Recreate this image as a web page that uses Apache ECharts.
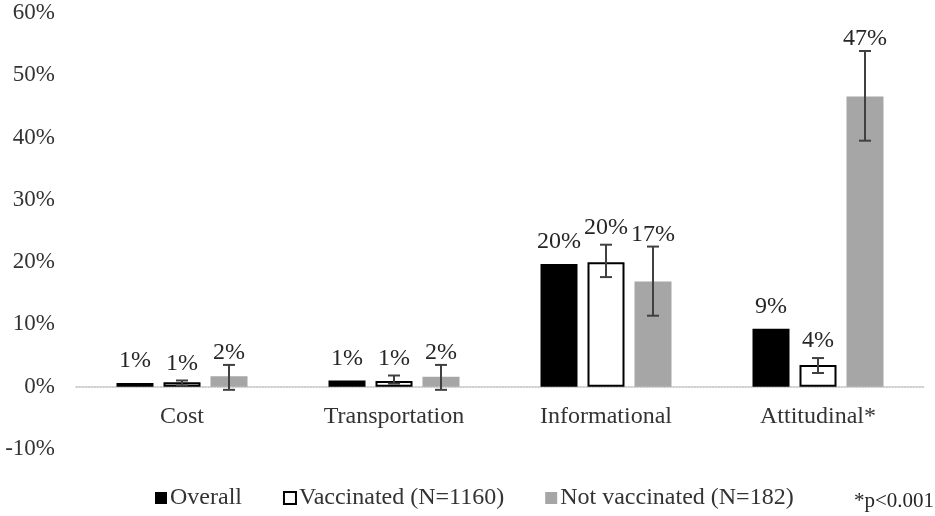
<!DOCTYPE html>
<html>
<head>
<meta charset="utf-8">
<script src="https://cdn.jsdelivr.net/npm/echarts@6/dist/echarts.min.js"></script>
<style>
  html, body { margin: 0; padding: 0; background: #fff; }
  #container { width: 935px; height: 516px; }
</style>
</head>
<body>
<div id="container"></div>
<script>
// categories and values (percent)
var categories = ['Cost', 'Transportation', 'Informational', 'Attitudinal*'];
var yTicks = { min: -10, max: 60, interval: 10 };

var overall = [0.6, 1.0, 19.7, 9.3];

var vaccinated = [0.7, 0.9, 20.0, 3.5];
var vaccinatedLow = [0.2, 0.5, 17.6, 2.2];
var vaccinatedHigh = [1.0, 1.8, 22.8, 4.6];

var notVaccinated = [1.7, 1.6, 16.9, 46.6];
var notVaccinatedLow = [-0.5, -0.5, 11.4, 39.5];
var notVaccinatedHigh = [3.5, 3.5, 22.5, 53.9];

var seriesNames = ['Overall', 'Vaccinated (N=1160)', 'Not vaccinated (N=182)'];

var FONT = "'Liberation Serif', 'Times New Roman', serif";
var BAR_W = 37;
var BAR_GAP = 10;
var LABEL_GAP = [22, 17, 12]; // label centre above bar / error bar top

function toData(vals, lo, hi) {
    var res = [];
    for (var i = 0; i < vals.length; i++) {
        res.push([i, vals[i], lo ? lo[i] : null, hi ? hi[i] : null]);
    }
    return res;
}

// draws the error bar (if any) and the value label above it
function errorRender(s) {
    return function (params, api) {
        var cat = api.value(0);
        var val = api.value(1);
        var lo = api.value(2);
        var hi = api.value(3);
        var top = api.coord([cat, val]);
        var x = top[0] + (s - 1) * (BAR_W + BAR_GAP);
        var anchorY = top[1];
        var children = [];
        if (!isNaN(hi) && !isNaN(lo) && hi !== null) {
            var pHi = api.coord([cat, hi]);
            var pLo = api.coord([cat, lo]);
            var st = { stroke: '#404040', lineWidth: 2 };
            children.push({ type: 'line', shape: { x1: x, y1: pHi[1], x2: x, y2: pLo[1] }, style: st });
            children.push({ type: 'line', shape: { x1: x - 6, y1: pHi[1], x2: x + 6, y2: pHi[1] }, style: st });
            children.push({ type: 'line', shape: { x1: x - 6, y1: pLo[1], x2: x + 6, y2: pLo[1] }, style: st });
            anchorY = Math.min(anchorY, pHi[1]);
        }
        children.push({
            type: 'text',
            style: {
                text: Math.round(val) + '%',
                x: x,
                y: anchorY - LABEL_GAP[s],
                align: 'center',
                verticalAlign: 'middle',
                font: '24px ' + FONT,
                fill: '#262626'
            }
        });
        return { type: 'group', children: children };
    };
}

var dom = document.getElementById('container');
var myChart = echarts.init(dom);

var option = {
    backgroundColor: '#fff',
    animation: false,
    textStyle: { fontFamily: FONT },
    grid: { left: 76, right: 11, top: 13, bottom: 67 },
    legend: {
        left: 150,
        top: 481,
        itemWidth: 12,
        itemHeight: 12,
        itemGap: 41,
        icon: 'rect',
        data: seriesNames,
        textStyle: { fontFamily: FONT, fontSize: 24, color: '#333', padding: [0, 0, 0, -2] }
    },
    graphic: [{
        type: 'text',
        right: 1,
        top: 491,
        style: { text: '*p<0.001', font: '21px ' + FONT, fill: '#262626' }
    }],
    xAxis: {
        type: 'category',
        data: categories,
        axisTick: { show: false },
        axisLine: { onZero: true, lineStyle: { color: '#bfbfbf', width: 1.5, type: 'dotted' } },
        // labels sit just under the zero line, not under the -10% edge
        axisLabel: { fontFamily: FONT, fontSize: 24, color: '#333', margin: -44 }
    },
    yAxis: {
        type: 'value',
        min: yTicks.min,
        max: yTicks.max,
        interval: yTicks.interval,
        splitLine: { show: false },
        axisLine: { show: false },
        axisTick: { show: false },
        axisLabel: { fontFamily: FONT, fontSize: 23, color: '#333', margin: 21, formatter: '{value}%' }
    },
    series: [
        {
            name: seriesNames[0], type: 'bar', barWidth: BAR_W, barGap: (BAR_GAP / BAR_W * 100) + '%',
            itemStyle: { color: '#000' },
            data: overall
        },
        {
            name: seriesNames[1], type: 'bar', barWidth: BAR_W,
            itemStyle: { color: '#fff', borderColor: '#000', borderWidth: 2 },
            data: vaccinated
        },
        {
            name: seriesNames[2], type: 'bar', barWidth: BAR_W,
            itemStyle: { color: '#a6a6a6' },
            data: notVaccinated
        },
        { name: 'err0', type: 'custom', renderItem: errorRender(0), data: toData(overall), z: 5, encode: { x: 0, y: 1 } },
        { name: 'err1', type: 'custom', renderItem: errorRender(1), data: toData(vaccinated, vaccinatedLow, vaccinatedHigh), z: 5, encode: { x: 0, y: 1 } },
        { name: 'err2', type: 'custom', renderItem: errorRender(2), data: toData(notVaccinated, notVaccinatedLow, notVaccinatedHigh), z: 5, encode: { x: 0, y: 1 } }
    ]
};

if (option && typeof option === "object") {
    myChart.setOption(option, true);
}
</script>
</body>
</html>
